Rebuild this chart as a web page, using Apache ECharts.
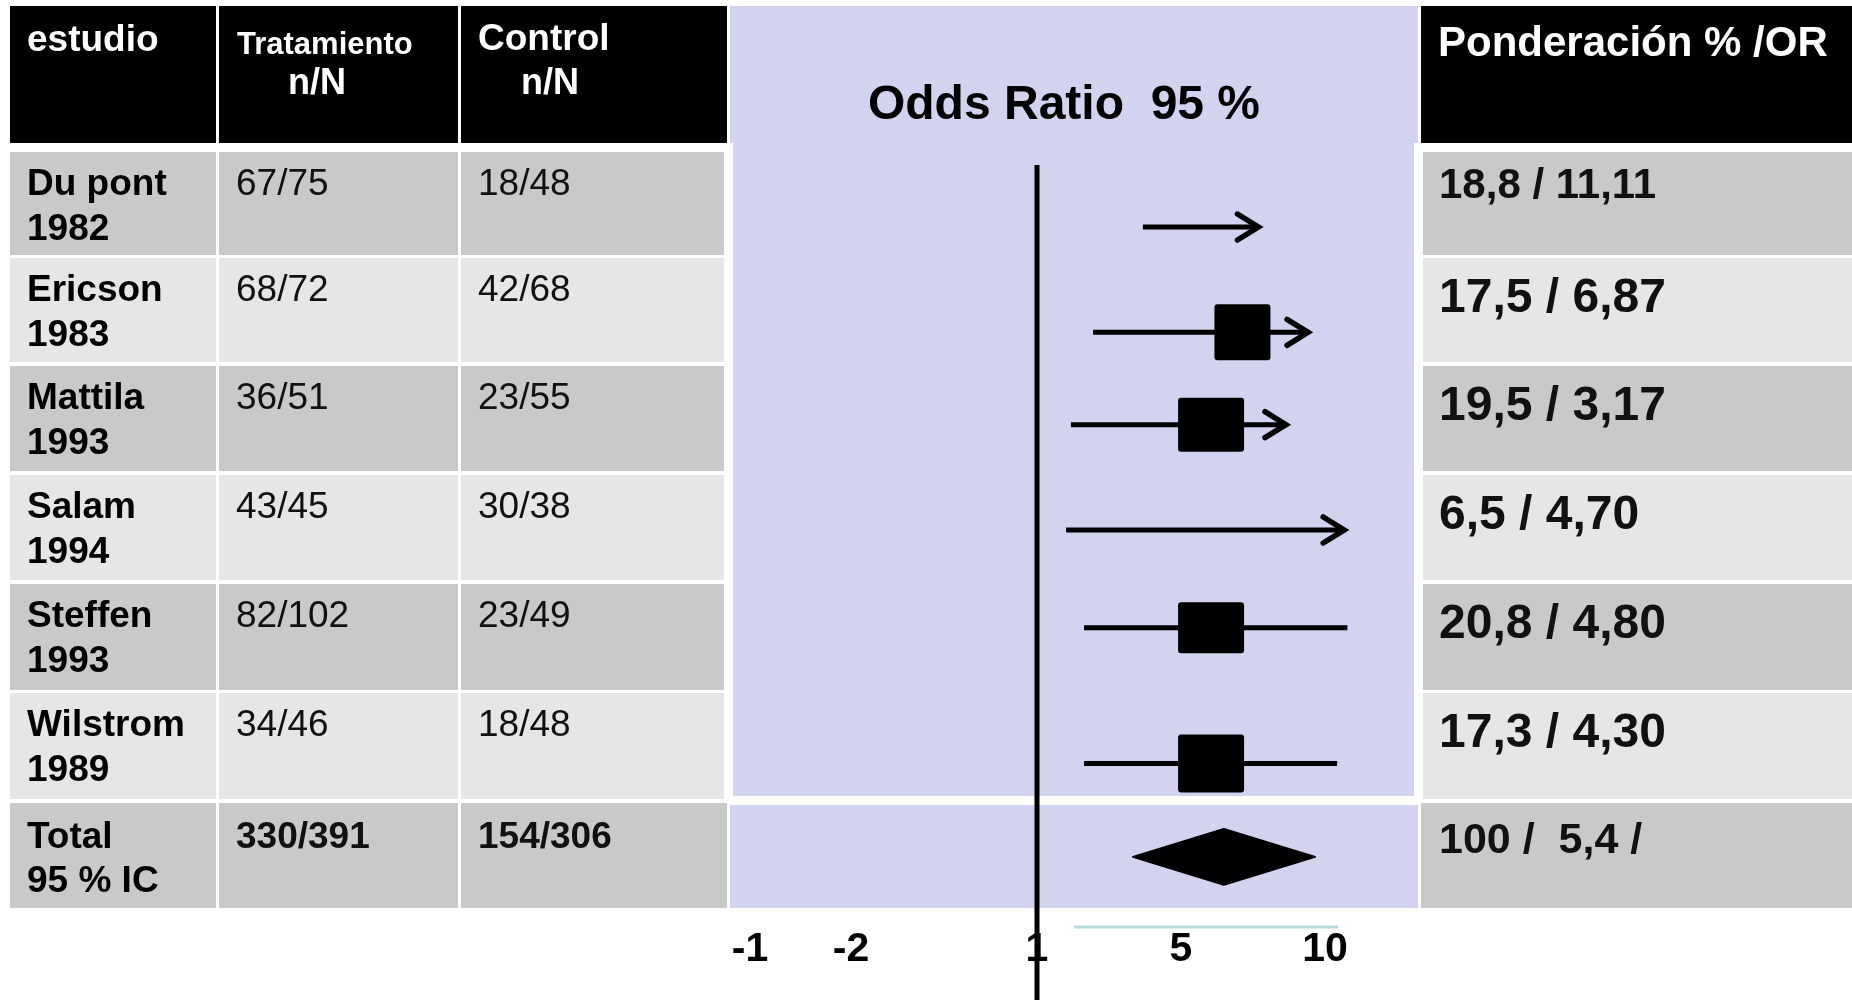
<!DOCTYPE html>
<html>
<head>
<meta charset="utf-8">
<script src="https://cdn.jsdelivr.net/npm/echarts@6/dist/echarts.min.js"></script>
<style>
html,body{margin:0;padding:0;background:#fff;}
#chart{width:1852px;height:1000px;}
</style>
</head>
<body>
<div id="chart"></div>
<script>
// ---------------- DATA ----------------
const estudios = ['Du pont', 'Ericson', 'Mattila', 'Salam', 'Steffen', 'Wilstrom'];
const anios = ['1982', '1983', '1993', '1994', '1993', '1989'];
const tratamiento = ['67/75', '68/72', '36/51', '43/45', '82/102', '34/46'];
const control = ['18/48', '42/68', '23/55', '30/38', '23/49', '18/48'];
const ponderacion = ['18,8', '17,5', '19,5', '6,5', '20,8', '17,3'];
const oddsRatio = ['11,11', '6,87', '3,17', '4,70', '4,80', '4,30'];
const totalEtiqueta = ['Total', '95 % IC'];
const totalTratamiento = '330/391';
const totalControl = '154/306';
const totalPonderacion = '100 /  5,4 /';

// forest plot values (chart's own horizontal scale)
const icInferior = [4.31, 2.75, 2.06, 1.91, 2.47, 2.47];
const icSuperior = [7.92, 9.47, 8.78, 10.60, 10.70, 10.38];
const estimacion = [null, 7.42, 6.44, null, 6.44, 6.44];
const flecha = [true, true, true, true, false, false];
const filaY = [0.70, 1.67, 2.52, 3.49, 4.39, 5.64];   // vertical placement in row units
const totalIC = [4.00, 6.84, 9.69];
const totalY = 6.50;
const lineaRef = [1, 0.13];          // x = 1 reference line, starting row position
const lineaEje = [2.16, 10.41, 7.146];

// axis tick labels (as printed) and where they sit on the scale
const etiquetasEje = ['-1', '-2', '1', '5', '10'];
const posicionEtiquetas = [-7.97, -4.81, 1, 5.5, 10];

// ---------------- LAYOUT / STYLE ----------------
const FONT = "'Liberation Sans', Arial, Helvetica, sans-serif";
const L = {
  headTop: 6, headBot: 143,
  rowTop: [152, 258, 366, 475, 584, 693],
  rowBot: [255, 362, 471, 580, 690, 799],
  totTop: 803, totBot: 908,
  c1: [10, 216], c2: [219, 458], c3: [461, 724], c3w: [461, 727],
  lilacHead: [730, 1418], lilacBody: [733, 1414], lilacBodyBot: 796,
  lilacTot: [730, 1418], totLilacTop: 805,
  c5h: [1421, 1852], c5: [1423, 1852]
};
const COL = { dark: '#C9C9C9', light: '#E6E6E6', lilac: '#D1D3EF', black: '#000000' };
const SQ = [null, [56, 56], [66, 54], null, [66, 51], [66, 58]];
const DY = 3; // text vertical nudge

const gridTop = 151, rowPitch = 108.6, gridLeft = 733, pxUnit = 32;
const xMin = -8.5, xMax = 13;
const gridW = (xMax - xMin) * pxUnit;
const gridH = 1000 - gridTop;
const yMax = gridH / rowPitch;

// ---------------- GRAPHIC (table) ----------------
const g = [];
function rect(x0, x1, y0, y1, fill) {
  g.push({ type: 'rect', z: 0, shape: { x: x0, y: y0, width: x1 - x0, height: y1 - y0 }, style: { fill: fill }, silent: true });
}
function txt(s, x, y, size, weight, fill, align) {
  g.push({ type: 'text', z: 5, x: x, y: y + DY, silent: true,
    style: { text: s, font: weight + ' ' + size + 'px ' + FONT, fill: fill,
      align: align || 'left', verticalAlign: 'middle', textAlign: align || 'left', textVerticalAlign: 'middle' } });
}
// header
rect(L.c1[0], L.c1[1], L.headTop, L.headBot, COL.black);
rect(L.c2[0], L.c2[1], L.headTop, L.headBot, COL.black);
rect(L.c3w[0], L.c3w[1], L.headTop, L.headBot, COL.black);
rect(L.lilacHead[0], L.lilacHead[1], L.headTop, L.headBot, COL.lilac);
rect(L.c5h[0], L.c5h[1], L.headTop, L.headBot, COL.black);
rect(L.lilacBody[0], L.lilacBody[1], L.headBot, L.lilacBodyBot, COL.lilac);
// body rows
for (let i = 0; i < estudios.length; i++) {
  const f = i % 2 === 0 ? COL.dark : COL.light;
  const t = L.rowTop[i], b = L.rowBot[i];
  rect(L.c1[0], L.c1[1], t, b, f);
  rect(L.c2[0], L.c2[1], t, b, f);
  rect(L.c3[0], L.c3[1], t, b, f);
  rect(L.c5[0], L.c5[1], t, b, f);
  txt(estudios[i], 27, t + 30, 37, 'bold', '#000');
  txt(anios[i], 27, t + 75, 37, 'bold', '#000');
  txt(tratamiento[i], 236, t + 30, 37, 'normal', '#111');
  txt(control[i], 478, t + 30, 37, 'normal', '#111');
  const big = i > 0;
  txt(ponderacion[i] + ' / ' + oddsRatio[i], 1439, t + (big ? 38 : 31), big ? 48 : 42, 'bold', '#111');
}
// total row
rect(L.c1[0], L.c1[1], L.totTop, L.totBot, COL.dark);
rect(L.c2[0], L.c2[1], L.totTop, L.totBot, COL.dark);
rect(L.c3w[0], L.c3w[1], L.totTop, L.totBot, COL.dark);
rect(L.lilacTot[0], L.lilacTot[1], L.totLilacTop, L.totBot, COL.lilac);
rect(L.c5h[0], L.c5h[1], L.totTop, L.totBot, COL.dark);
txt(totalEtiqueta[0], 27, L.totTop + 32, 37, 'bold', '#000');
txt(totalEtiqueta[1], 27, L.totTop + 76, 37, 'bold', '#000');
txt(totalTratamiento, 236, L.totTop + 32, 37, 'bold', '#111');
txt(totalControl, 478, L.totTop + 32, 37, 'bold', '#111');
txt(totalPonderacion, 1439, L.totTop + 35, 43, 'bold', '#111');
// header texts
txt('estudio', 27, 38, 37, 'bold', '#fff');
txt('Tratamiento', 237, 42, 31, 'bold', '#fff');
txt('n/N', 317, 81, 36, 'bold', '#fff', 'center');
txt('Control', 478, 37, 37, 'bold', '#fff');
txt('n/N', 550, 81, 36, 'bold', '#fff', 'center');
txt('Odds Ratio  95 %', 1064, 103, 48, 'bold', '#000', 'center');
txt('Ponderación % /OR', 1438, 41, 42, 'bold', '#fff');

// ---------------- CHART ----------------
const chart = echarts.init(document.getElementById('chart'), null, { renderer: 'canvas', width: 1852, height: 1000 });

function renderStudy(params, api) {
  const i = params.dataIndex;
  const y = filaY[i];
  const p0 = api.coord([icInferior[i], y]);
  const p1 = api.coord([icSuperior[i], y]);
  const children = [];
  children.push({ type: 'line', shape: { x1: p0[0], y1: p0[1], x2: p1[0] - (flecha[i] ? 3 : 0), y2: p1[1] },
    style: { stroke: '#000', lineWidth: 5, lineCap: 'butt' } });
  if (flecha[i]) {
    children.push({ type: 'polyline', shape: { points: [[p1[0] - 21, p1[1] - 13], [p1[0], p1[1]], [p1[0] - 21, p1[1] + 13]] },
      style: { stroke: '#000', lineWidth: 5.5, fill: null, lineCap: 'round', lineJoin: 'miter' } });
  }
  if (estimacion[i] != null) {
    const c = api.coord([estimacion[i], y]);
    const s = SQ[i];
    children.push({ type: 'rect', shape: { x: c[0] - s[0] / 2, y: c[1] - s[1] / 2, width: s[0], height: s[1], r: 3 },
      style: { fill: '#000' } });
  }
  return { type: 'group', children: children };
}

function renderTotal(params, api) {
  const lo = api.coord([totalIC[0], totalY]);
  const mid = api.coord([totalIC[1], totalY]);
  const hi = api.coord([totalIC[2], totalY]);
  const h = 28;
  return { type: 'polygon', shape: { points: [[lo[0], lo[1]], [mid[0], mid[1] - h], [hi[0], hi[1]], [mid[0], mid[1] + h]] },
    style: { fill: '#000', stroke: '#000', lineWidth: 2, lineJoin: 'round' } };
}

const option = {
  animation: false,
  backgroundColor: '#ffffff',
  graphic: { elements: g },
  grid: { left: gridLeft, top: gridTop, width: gridW, height: gridH, containLabel: false, show: false },
  xAxis: {
    type: 'value', min: xMin, max: xMax, offset: -50,
    axisLine: { show: false }, axisTick: { show: false }, splitLine: { show: false },
    axisLabel: {
      customValues: posicionEtiquetas, margin: 0, verticalAlign: 'middle',
      fontFamily: FONT, fontSize: 41, fontWeight: 'bold', color: '#000',
      formatter: function (v) {
        let best = 0, d = Infinity;
        posicionEtiquetas.forEach(function (p, k) { if (Math.abs(p - v) < d) { d = Math.abs(p - v); best = k; } });
        return etiquetasEje[best];
      }
    }
  },
  yAxis: { type: 'value', inverse: true, min: 0, max: yMax, show: false },
  series: [
    { type: 'line', z: 3, data: [[lineaEje[0], lineaEje[2]], [lineaEje[1], lineaEje[2]]], symbol: 'none',
      lineStyle: { color: '#B6DCDC', width: 3 }, silent: true },
    { type: 'custom', z: 4, renderItem: renderStudy, clip: false,
      data: icInferior.map(function (v, i) { return [v, filaY[i]]; }) },
    { type: 'custom', z: 4, renderItem: renderTotal, clip: false, data: [[totalIC[1], totalY]] },
    { type: 'line', z: 6, data: [[lineaRef[0], lineaRef[1]], [lineaRef[0], yMax]], symbol: 'none',
      lineStyle: { color: '#000', width: 5 }, silent: true }
  ]
};
chart.setOption(option);
</script>
</body>
</html>
